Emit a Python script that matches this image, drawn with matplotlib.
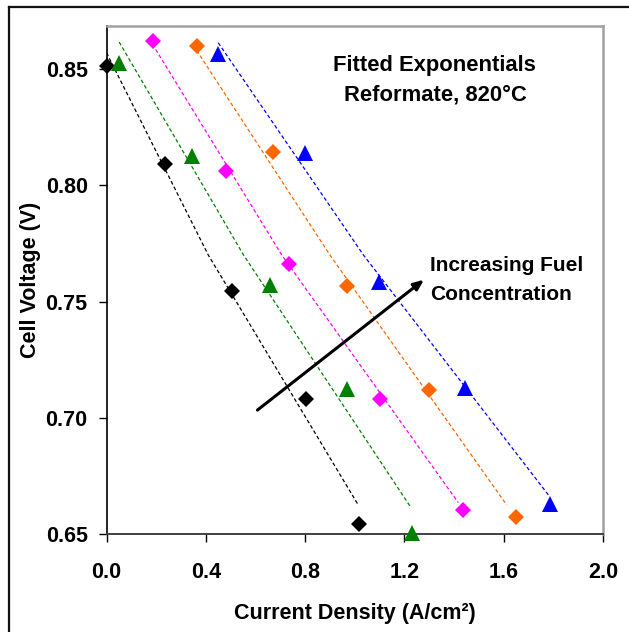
import matplotlib
matplotlib.use("Agg")
import matplotlib.pyplot as plt
from matplotlib.lines import Line2D

plt.rcParams['font.family'] = ['Liberation Sans', 'DejaVu Sans']
plt.rcParams['font.weight'] = 'bold'

# Measured polarization data, one series per fuel concentration (lowest first)
black_i = [0.000, 0.236, 0.506, 0.805, 1.019]
black_v = [0.8515, 0.8090, 0.7545, 0.7080, 0.6545]
green_i = [0.052, 0.346, 0.659, 0.969, 1.231]
green_v = [0.8525, 0.8125, 0.7570, 0.7125, 0.6505]
magenta_i = [0.186, 0.481, 0.737, 1.103, 1.436]
magenta_v = [0.8620, 0.8060, 0.7660, 0.7080, 0.6605]
orange_i = [0.365, 0.669, 0.968, 1.300, 1.651]
orange_v = [0.8600, 0.8145, 0.7565, 0.7120, 0.6575]
blue_i = [0.451, 0.800, 1.099, 1.443, 1.787]
blue_v = [0.8565, 0.8140, 0.7585, 0.7130, 0.6630]

# Fitted exponential curves (sampled)
black_fit_i = [0.000, 0.410, 1.014]
black_fit_v = [0.857, 0.770, 0.6625]
green_fit_i = [0.051, 0.552, 1.2225]
green_fit_v = [0.8616, 0.770, 0.662]
magenta_fit_i = [0.185, 0.706, 1.417]
magenta_fit_v = [0.8607, 0.770, 0.6635]
orange_fit_i = [0.363, 0.900, 1.612]
orange_fit_v = [0.858, 0.770, 0.6625]
blue_fit_i = [0.450, 1.035, 1.780]
blue_fit_v = [0.8613, 0.770, 0.6668]

x_ticks = [0.0, 0.4, 0.8, 1.2, 1.6, 2.0]
y_ticks = [0.65, 0.70, 0.75, 0.80, 0.85]

series = [
    (black_i, black_v, black_fit_i, black_fit_v, '#000000', 'D'),
    (green_i, green_v, green_fit_i, green_fit_v, '#008000', '^'),
    (magenta_i, magenta_v, magenta_fit_i, magenta_fit_v, '#FF00FF', 'D'),
    (orange_i, orange_v, orange_fit_i, orange_fit_v, '#FF6600', 'D'),
    (blue_i, blue_v, blue_fit_i, blue_fit_v, '#0000FF', '^'),
]

fig = plt.figure(figsize=(6.29, 6.32), dpi=100)
ax = fig.add_axes([106.5 / 629, 98 / 632, 496.5 / 629, 508 / 632])

for xi, yv, fi, fv, col, mk in series:
    ax.plot(fi, fv, color=col, lw=0.9, linestyle=(0, (3, 2)), zorder=2)
    ms = 8.6 if mk == 'D' else 12.0
    ax.plot(xi, yv, linestyle='none', marker=mk, ms=ms, color=col,
            markeredgewidth=0, zorder=3, clip_on=False)

ax.set_xlim(0.0, 2.0)
ax.set_ylim(0.65, 0.8685)
ax.set_xticks(x_ticks)
ax.set_xticklabels([f"{t:.1f}" for t in x_ticks])
ax.set_yticks(y_ticks)
ax.set_yticklabels([f"{t:.2f}" for t in y_ticks])
ax.tick_params(axis='both', direction='out', length=5.5, width=1.0,
               labelsize=15.5, colors='black')
ax.tick_params(axis='x', pad=15)
ax.tick_params(axis='y', pad=8)

ax.spines['left'].set_color('#000000')
ax.spines['left'].set_linewidth(1.2)
ax.spines['bottom'].set_color('#404040')
ax.spines['bottom'].set_linewidth(1.4)
for s in ('top', 'right'):
    ax.spines[s].set_color('#A0A0A0')
    ax.spines[s].set_linewidth(1.8)

ax.set_xlabel('Current Density (A/cm²)', fontsize=15.5,
              fontweight='bold', labelpad=14)
ax.set_ylabel('Cell Voltage (V)', fontsize=15.5, fontweight='bold', labelpad=3.5)

ax.text(1.323, 0.8513, 'Fitted Exponentials', ha='center', va='center',
        fontsize=15.8, fontweight='bold')
ax.text(1.327, 0.8388, 'Reformate, 820°C', ha='center', va='center',
        fontsize=15.8, fontweight='bold')
ax.text(1.305, 0.7653, 'Increasing Fuel', ha='left', va='center',
        fontsize=15, fontweight='bold')
ax.text(1.305, 0.7532, 'Concentration', ha='left', va='center',
        fontsize=15, fontweight='bold')

ax.annotate('', xy=(1.279, 0.7594), xytext=(0.608, 0.7033),
            arrowprops=dict(arrowstyle='-|>,head_length=0.6,head_width=0.25',
                            color='black', lw=2.2, shrinkA=0, shrinkB=0))

# outer frame around the chart
fig.add_artist(Line2D([8.5 / 629, 8.5 / 629], [0, 1 - 6.5 / 632],
                      transform=fig.transFigure, color='#111111', lw=1.6))
fig.add_artist(Line2D([8.5 / 629, 1], [1 - 6.5 / 632, 1 - 6.5 / 632],
                      transform=fig.transFigure, color='#111111', lw=1.6))

fig.savefig('out.png', dpi=100)
